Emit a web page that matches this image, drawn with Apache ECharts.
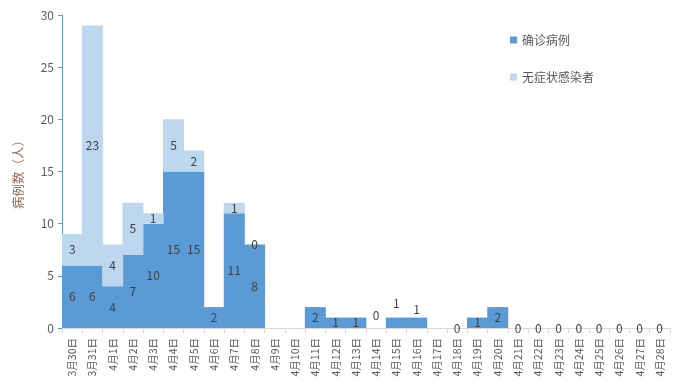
<!DOCTYPE html>
<html><head><meta charset="utf-8">
<script src="https://cdn.jsdelivr.net/npm/echarts@6/dist/echarts.min.js"></script>
<style>html,body{margin:0;padding:0;background:#fff}#c{width:684px;height:390px}</style>
</head><body><div id="c"></div>
<script>
const categories = ['3月30日','3月31日','4月1日','4月2日','4月3日','4月4日','4月5日','4月6日','4月7日','4月8日','4月9日','4月10日','4月11日','4月12日','4月13日','4月14日','4月15日','4月16日','4月17日','4月18日','4月19日','4月20日','4月21日','4月22日','4月23日','4月24日','4月25日','4月26日','4月27日','4月28日'];
const confirmed = [6,6,4,7,10,15,15,2,11,8,null,null,2,1,1,0,1,1,null,0,1,2,0,0,0,0,0,0,0,0];
const asymptomatic = [3,23,4,5,1,5,2,null,1,0,null,null,null,null,null,null,null,null,null,null,null,null,null,null,null,null,null,null,null,null];
const yTicks = [0,5,10,15,20,25,30];
const seriesNames = ['确诊病例','无症状感染者'];

// labels drawn above the bar for these categories (as in the original)
const topLabelDist = {15:7, 16:8, 17:2};
const confData = confirmed.map((v,i)=> (i in topLabelDist) ? {value:v, label:{position:'top', distance: topLabelDist[i]}} : v);

const font = '"Microsoft YaHei","Noto Sans CJK SC",sans-serif';
const chart = echarts.init(document.getElementById('c'), null, {renderer:'canvas'});
chart.setOption({
  animation:false,
  textStyle:{fontFamily:font},
  grid:{left:62,right:14,top:15,bottom:62,containLabel:false},
  legend:{
    orient:'vertical', left:505, top:29, itemWidth:7, itemHeight:7, itemGap:25,
    icon:'rect', textStyle:{color:'#595959', fontSize:12, fontFamily:font},
    data:seriesNames
  },
  xAxis:{
    type:'category', data:categories,
    axisLine:{lineStyle:{color:'#d9d9d9'}},
    axisTick:{show:true, alignWithLabel:false, length:5, lineStyle:{color:'#d9d9d9'}},
    axisLabel:{rotate:90, interval:0, fontSize:10.5, color:'#595959', margin:10, fontFamily:font}
  },
  yAxis:{
    type:'value', min:yTicks[0], max:yTicks[yTicks.length-1], interval:5,
    name:'病例数（人）', nameLocation:'middle', nameGap:37, nameRotate:90,
    nameTextStyle:{color:'#996655', fontSize:12.5, fontFamily:font},
    axisLine:{show:true, lineStyle:{color:'#5b9bd5'}},
    axisTick:{show:true, length:4, lineStyle:{color:'#5b9bd5'}},
    axisLabel:{color:'#595959', fontSize:12, margin:8, fontFamily:font},
    splitLine:{show:false}
  },
  series:[
    {name:seriesNames[0], type:'bar', stack:'a', data:confData, barWidth:21, barGap:'0%', barCategoryGap:'0%',
     itemStyle:{color:'#5b9bd5'},
     label:{show:true, position:'inside', color:'#404040', fontSize:12, fontFamily:font, formatter:p=>p.value==null?'':String(p.value)}},
    {name:seriesNames[1], type:'bar', stack:'a', data:asymptomatic, barWidth:21, barGap:'0%',
     itemStyle:{color:'#bdd7ee'},
     label:{show:true, position:'inside', color:'#404040', fontSize:12, fontFamily:font, formatter:p=>p.value==null?'':String(p.value)}}
  ]
});
</script></body></html>
